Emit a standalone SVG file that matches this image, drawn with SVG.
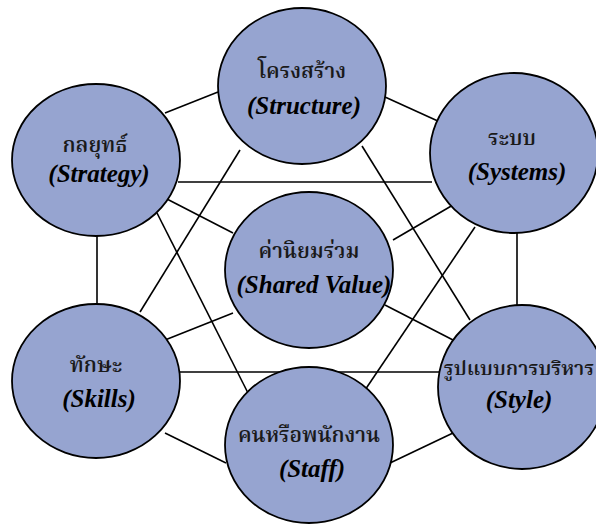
<svg xmlns="http://www.w3.org/2000/svg" width="596" height="531" viewBox="0 0 596 531">
  <style>
    .link { stroke: #000; stroke-width: 1.6; fill: none; }
    .node ellipse { fill: #96A4D0; stroke: #000; stroke-width: 1.8; }
    .th { font-family: "Noto Serif Thai", "Noto Sans Thai", "Liberation Serif", serif; font-size: 21px; font-weight: 600; fill: #1a1a1a; text-anchor: middle; }
    .en { font-family: "Liberation Serif", serif; font-style: italic; font-weight: bold; font-size: 25px; fill: #000; text-anchor: middle; }
  </style>
  <rect width="596" height="531" fill="#fff"/>
  <g id="connectors">
    <!-- outer ring -->
    <line class="link" x1="165" y1="113" x2="218" y2="92"/>
    <line class="link" x1="385" y1="97" x2="440" y2="122"/>
    <line class="link" x1="97" y1="234" x2="97" y2="306"/>
    <line class="link" x1="517" y1="232" x2="517" y2="306"/>
    <line class="link" x1="165" y1="433" x2="226" y2="463"/>
    <line class="link" x1="390" y1="463" x2="453" y2="433"/>
    <!-- long diagonals -->
    <line class="link" x1="178" y1="182" x2="432" y2="182"/>
    <line class="link" x1="180" y1="372" x2="440" y2="372"/>
    <line class="link" x1="240" y1="150" x2="140" y2="312"/>
    <line class="link" x1="362" y1="146" x2="470" y2="320"/>
    <line class="link" x1="157" y1="213" x2="248" y2="393"/>
    <line class="link" x1="475" y1="227" x2="363" y2="393"/>
    <!-- spokes to the centre -->
    <line class="link" x1="165" y1="198" x2="233" y2="233"/>
    <line class="link" x1="453" y1="205" x2="393" y2="240"/>
    <line class="link" x1="165" y1="340" x2="233" y2="313"/>
    <line class="link" x1="453" y1="340" x2="385" y2="305"/>
  </g>
  <g id="structure" class="node">
    <ellipse cx="302" cy="86" rx="84" ry="78"/>
    <text class="th" x="302" y="78">โครงสร้าง</text>
    <text class="en" x="304" y="114">(Structure)</text>
  </g>
  <g id="strategy" class="node">
    <ellipse cx="96" cy="160" rx="84" ry="76"/>
    <text class="th" x="95" y="152">กลยุทธ์</text>
    <text class="en" x="99" y="182">(Strategy)</text>
  </g>
  <g id="systems" class="node">
    <ellipse cx="514" cy="153" rx="84" ry="80"/>
    <text class="th" x="512" y="145">ระบบ</text>
    <text class="en" x="517" y="180">(Systems)</text>
  </g>
  <g id="shared-value" class="node">
    <ellipse cx="309" cy="270" rx="84" ry="78"/>
    <text class="th" x="309" y="258">ค่านิยมร่วม</text>
    <text class="en" x="314" y="293">(Shared Value)</text>
  </g>
  <g id="skills" class="node">
    <ellipse cx="96" cy="381" rx="84" ry="77"/>
    <text class="th" x="96" y="372">ทักษะ</text>
    <text class="en" x="99" y="407">(Skills)</text>
  </g>
  <g id="style" class="node">
    <ellipse cx="522" cy="387" rx="84" ry="82"/>
    <text class="th" x="519" y="375" style="font-size:20px">รูปแบบการบริหาร</text>
    <text class="en" x="519" y="408">(Style)</text>
  </g>
  <g id="staff" class="node">
    <ellipse cx="309" cy="445" rx="84" ry="78"/>
    <text class="th" x="309" y="442">คนหรือพนักงาน</text>
    <text class="en" x="312" y="477">(Staff)</text>
  </g>
</svg>
